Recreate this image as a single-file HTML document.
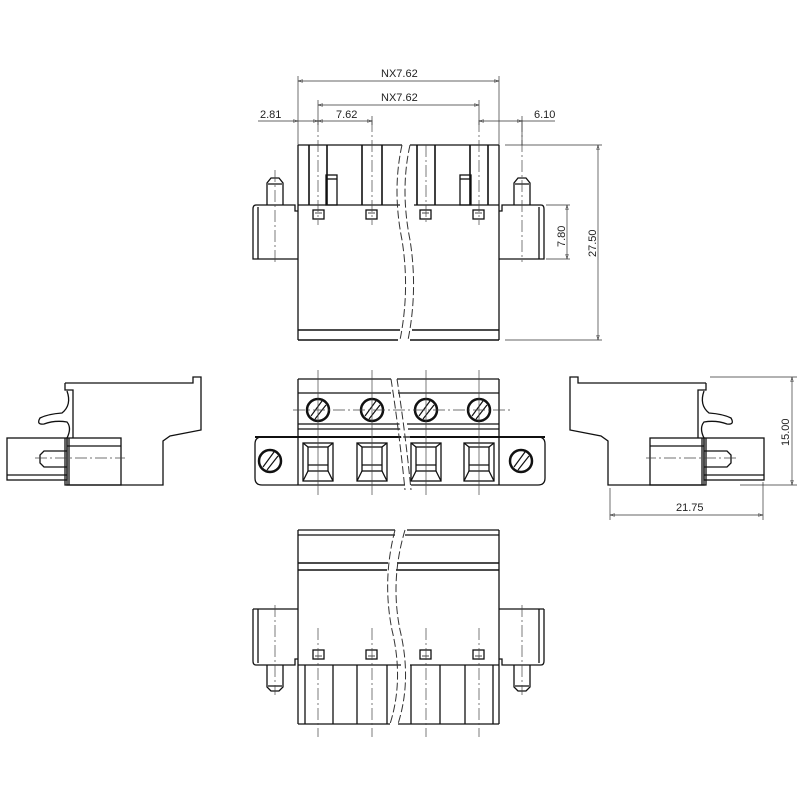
<!DOCTYPE html>
<html><head><meta charset="utf-8"><style>
html,body{margin:0;padding:0;background:#fff}
svg{display:block}
text{font-family:"Liberation Sans Narrow","Liberation Sans",sans-serif;font-size:11px;fill:#222}
</style></head><body>
<svg width="800" height="800" viewBox="0 0 800 800" xmlns="http://www.w3.org/2000/svg">
<defs>
<marker id="a" viewBox="0 0 10 6" refX="10" refY="3" markerWidth="10" markerHeight="4" orient="auto-start-reverse"><path d="M0,0 L10,3 L0,6 Z" fill="none" stroke="#333" stroke-width="1"/></marker>
</defs>
<g fill="none" stroke="#111" stroke-width="1.3">
<!-- ===== TOP VIEW ===== -->
<path d="M298,145 H402 M410,145 H499"/>
<path d="M298,145 V340 M499,145 V340"/>
<path d="M298,330 H400 M412,330 H499 M298,340 H398 M410,340 H499" stroke-width="1.6"/>
<path d="M298,205 H400 M414,205 H499"/>
<path d="M309,145 V205 M327,145 V205 M362,145 V205 M382,145 V205 M417,145 V205 M435,145 V205 M470,145 V205 M488,145 V205" stroke-width="1.6"/>
<rect x="326" y="175" width="11" height="30"/><line x1="326" y1="179" x2="337" y2="179"/>
<rect x="460" y="175" width="11" height="30"/><line x1="460" y1="179" x2="471" y2="179"/>
<rect x="313" y="210" width="11" height="9"/><rect x="366" y="210" width="11" height="9"/><rect x="420" y="210" width="11" height="9"/><rect x="473" y="210" width="11" height="9"/>
<path d="M315,213 H322 M368,213 H375 M422,213 H429 M475,213 H482" stroke-width="0.8"/>
<path d="M298,211 H295 V205 H256 Q253,205 253,209 V259 H298"/>
<line x1="258" y1="207" x2="258" y2="259"/>
<path d="M499,211 H502 V205 H541 Q544,205 544,209 V259 H499"/>
<line x1="539" y1="207" x2="539" y2="259"/>
<path d="M267,205 V183 L271,178 H279 L283,183 V205 M268,184 H282"/>
<path d="M514,205 V183 L518,178 H526 L530,183 V205 M515,184 H529"/>
</g>
<g fill="none" stroke="#333" stroke-width="1" stroke-dasharray="8,3">
<path d="M402,145 Q392,190 402,240 Q410,290 400,340"/>
<path d="M410,145 Q400,190 410,240 Q418,290 408,340"/>
</g>
<g stroke="#444" stroke-width="0.7" stroke-dasharray="12,3,2,3">
<path d="M318,120 V225 M372,120 V225 M426,145 V225 M479,120 V225 M275,170 V262 M522,120 V262"/>
</g>
<g stroke="#333" stroke-width="0.7" fill="none">
<path d="M298,76 V145 M499,76 V145 M318,100 V125 M479,100 V125 M372,116 V125 M522,116 V145"/>
<line x1="298" y1="81" x2="499" y2="81" marker-start="url(#a)" marker-end="url(#a)"/>
<line x1="318" y1="105" x2="479" y2="105" marker-start="url(#a)" marker-end="url(#a)"/>
<line x1="258" y1="121" x2="298" y2="121" marker-end="url(#a)"/>
<line x1="298" y1="121" x2="318" y2="121" marker-end="url(#a)"/>
<line x1="318" y1="121" x2="372" y2="121" marker-start="url(#a)" marker-end="url(#a)"/>
<line x1="479" y1="121" x2="522" y2="121" marker-start="url(#a)" marker-end="url(#a)"/>
<line x1="522" y1="121" x2="555" y2="121"/>
<path d="M505,145 H602 M505,340 H602 M546,205 H570 M546,259 H570"/>
<line x1="567" y1="205" x2="567" y2="259" marker-start="url(#a)" marker-end="url(#a)"/>
<line x1="598" y1="145" x2="598" y2="340" marker-start="url(#a)" marker-end="url(#a)"/>
</g>
<text x="381" y="77">NX7.62</text>
<text x="381" y="101">NX7.62</text>
<text x="260" y="118">2.81</text>
<text x="336" y="118">7.62</text>
<text x="534" y="118">6.10</text>
<text transform="translate(565,247) rotate(-90)">7.80</text>
<text transform="translate(596,257) rotate(-90)">27.50</text>

<!-- ===== LEFT SIDE VIEW ===== -->
<g id="side" fill="none" stroke="#111" stroke-width="1.3">
<path d="M65,383 H193 V377 H201 V430 L170,436 L163,441 V485 H65 V438"/>
<path d="M65,383 V390 H73 V438"/>
<path d="M67,391 Q72,405 62,413 Q48,414 40,418 Q36,425 44,424 Q55,420 67,422 Q72,428 67,438"/>
<rect x="7" y="438" width="60" height="42"/>
<line x1="7" y1="475" x2="67" y2="475"/>
<rect x="67" y="438" width="54" height="47"/>
<line x1="67" y1="446" x2="121" y2="446"/>
<line x1="69" y1="438" x2="69" y2="485"/>
<path d="M67,451 H44 L40,455 V463 L44,467 H67"/>
<line x1="35" y1="458" x2="125" y2="458" stroke="#444" stroke-width="0.7" stroke-dasharray="12,3,2,3"/>
</g>
<use href="#side" transform="translate(771,0) scale(-1,1)"/>
<g stroke="#333" stroke-width="0.7" fill="none">
<path d="M710,377 H797 M740,485 H797 M610,488 V520 M763,482 V520"/>
<line x1="792" y1="377" x2="792" y2="485" marker-start="url(#a)" marker-end="url(#a)"/>
<line x1="610" y1="515" x2="763" y2="515" marker-start="url(#a)" marker-end="url(#a)"/>
</g>
<text transform="translate(789,446) rotate(-90)">15.00</text>
<text x="676" y="511">21.75</text>

<!-- ===== FRONT VIEW ===== -->
<g fill="none" stroke="#111" stroke-width="1.3">
<path d="M298,379 H391 M397,379 H499 M298,379 V485 M499,379 V485 M298,393 H391 M398,393 H499"/>
<path d="M298,424 H401 M407,424 H499 M298,429 H402 M408,429 H499"/>
<path d="M255,437 H403 M410,437 H545" stroke-width="2"/>
<path d="M298,485 H405 M411,485 H499"/>
<path d="M262,437 H538 Q545,437 545,444 V478 Q545,485 538,485 H499 M298,485 H262 Q255,485 255,478 V444 Q255,437 262,437"/>
<g stroke-width="2.5"><circle cx="318" cy="410" r="11"/><circle cx="372" cy="410" r="11"/><circle cx="426" cy="410" r="11"/><circle cx="479" cy="410" r="11"/><circle cx="270" cy="461" r="11"/><circle cx="521" cy="461" r="11"/></g>
<g stroke-width="1.2">
<path d="M311,416 L322,401 M315,419 L326,405 M365,416 L376,401 M369,419 L380,405 M419,416 L430,401 M423,419 L434,405 M472,416 L483,401 M476,419 L487,405 M263,467 L274,452 M267,470 L278,456 M514,467 L525,452 M518,470 L529,456"/>
</g>
<g id="cell"><rect x="303" y="443" width="30" height="38"/><rect x="308" y="447" width="20" height="24"/><path d="M303,443 L308,447 M333,443 L328,447 M303,481 L308,471 M333,481 L328,471 M308,465 H328"/></g>
<use href="#cell" x="54"/><use href="#cell" x="108"/><use href="#cell" x="161"/>
</g>
<path d="M393,378 Q401,430 407,487 L409,487 Q403,430 395,378 Z" fill="#fff" stroke="none"/>
<g fill="none" stroke="#333" stroke-width="1" stroke-dasharray="8,3"><path d="M391,379 Q399,430 405,490"/><path d="M397,379 Q405,430 411,490"/></g>
<g stroke="#444" stroke-width="0.7">
<path d="M318,370 V495 M372,370 V495 M426,370 V495 M479,370 V495"/>
<path d="M293,410 H510" stroke-dasharray="12,3,2,3"/>
</g>

<!-- ===== BOTTOM VIEW ===== -->
<g fill="none" stroke="#111" stroke-width="1.3">
<path d="M298,530 H395 M407,530 H499 M298,535 H395 M405,535 H499"/>
<path d="M298,530 V724 M499,530 V724"/>
<path d="M298,563 H388 M397,563 H499 M298,570 H387 M396,570 H499" stroke-width="1.6"/>
<path d="M253,609 H298 M499,609 H544"/>
<path d="M253,609 V661 Q253,665 256,665 H295 V659 H298 M544,609 V661 Q544,665 541,665 H502 V659 H499"/>
<line x1="258" y1="609" x2="258" y2="663"/><line x1="539" y1="609" x2="539" y2="663"/>
<path d="M298,665 H401 M410,665 H499"/>
<path d="M298,724 H390 M398,724 H499"/>
<path d="M305,665 V724 M333,665 V724 M357,665 V724 M387,665 V724 M411,665 V724 M440,665 V724 M465,665 V724 M493,665 V724"/>
<rect x="313" y="650" width="11" height="9"/><rect x="366" y="650" width="11" height="9"/><rect x="420" y="650" width="11" height="9"/><rect x="473" y="650" width="11" height="9"/>
<path d="M315,656 H322 M368,656 H375 M422,656 H429 M475,656 H482" stroke-width="0.8"/>
<path d="M267,665 V687 L271,691 H279 L283,687 V665 M268,686 H282"/>
<path d="M514,665 V687 L518,691 H526 L530,687 V665 M515,686 H529"/>
</g>
<g fill="none" stroke="#333" stroke-width="1" stroke-dasharray="8,3">
<path d="M395,530 Q382,580 392,630 Q404,680 390,724"/>
<path d="M405,530 Q390,580 400,630 Q412,680 398,724"/>
</g>
<g stroke="#444" stroke-width="0.7" stroke-dasharray="12,3,2,3">
<path d="M318,628 V737 M372,628 V737 M426,628 V737 M479,628 V737 M275,605 V695 M522,605 V695"/>
</g>
</svg>
</body></html>
